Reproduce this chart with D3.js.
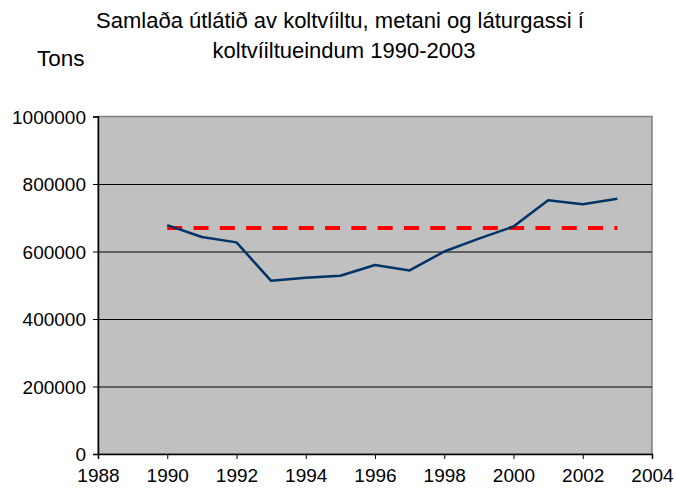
<!DOCTYPE html>
<html>
<head>
<meta charset="utf-8">
<script src="https://cdn.jsdelivr.net/npm/d3@7"></script>
<style>
  body { margin: 0; background: #fff; }
  text { font-family: "Liberation Sans", Arial, sans-serif; fill: #000; }
</style>
</head>
<body>
<div id="chart"></div>
<script>
// emissions in tons CO2 equivalents
const years = [1990, 1991, 1992, 1993, 1994, 1995, 1996, 1997, 1998, 1999, 2000, 2001, 2002, 2003];
const emissions = [678000, 643000, 627000, 513000, 522000, 528000, 560000, 544000, 600000, 638000, 674000, 752000, 740000, 756000];
// dashed reference level, drawn from first to last year
const refYears = [1990, 2003];
const refLevel = [670000, 670000];
const xTicks = [1988, 1990, 1992, 1994, 1996, 1998, 2000, 2002, 2004];
const yTicks = [0, 200000, 400000, 600000, 800000, 1000000];
const titleLines = ["Samlaða útlátið av koltvíiltu, metani og láturgassi í", "koltvíiltueindum 1990-2003"];

const W = 676, H = 493;
const margin = { top: 116.5, right: 24, bottom: 39, left: 98 };
const width = W - margin.left - margin.right;
const height = H - margin.top - margin.bottom;

const svg = d3.select("#chart").append("svg")
    .attr("width", W)
    .attr("height", H);

// title
svg.selectAll(".title")
    .data(titleLines)
    .enter().append("text")
    .attr("class", "title")
    .attr("x", (d, i) => i === 0 ? 340 : 344)
    .attr("y", (d, i) => 28 + i * 30)
    .attr("text-anchor", "middle")
    .style("font-size", "22px")
    .text(d => d);

svg.append("text")
    .attr("x", 37)
    .attr("y", 66)
    .style("font-size", "22.5px")
    .text("Tons");

const g = svg.append("g")
    .attr("transform", `translate(${margin.left},${margin.top})`);

const x = d3.scaleLinear().domain([1988, 2004]).range([0, width]);
const y = d3.scaleLinear().domain([0, 1000000]).range([height, 0]);

g.append("rect")
    .attr("width", width)
    .attr("height", height)
    .attr("fill", "#c0c0c0")
    .attr("stroke", "#808080")
    .attr("stroke-width", 1.5);

// gridlines
g.append("g")
    .call(d3.axisLeft(y).tickValues(yTicks.slice(1, -1)).tickSize(-width).tickFormat(""))
    .call(a => a.select(".domain").remove())
    .selectAll("line").attr("stroke", "#000");

// axes
const yAxis = g.append("g")
    .call(d3.axisLeft(y).tickValues(yTicks).tickSize(5).tickPadding(7).tickFormat(d3.format("d")));
yAxis.selectAll("text").style("font-size", "19px").attr("dy", "0.35em");

const xAxis = g.append("g")
    .attr("transform", `translate(0,${height})`)
    .call(d3.axisBottom(x).tickValues(xTicks).tickSize(5).tickPadding(10).tickFormat(d3.format("d")));
xAxis.selectAll("text").style("font-size", "19px");

[yAxis, xAxis].forEach(a => {
    a.select(".domain").attr("stroke", "#000").attr("stroke-width", 1.5);
    a.selectAll("line").attr("stroke", "#000");
});

// reference level
g.append("path")
    .datum(refYears.map((yr, i) => [yr, refLevel[i]]))
    .attr("fill", "none")
    .attr("stroke", "#ff0000")
    .attr("stroke-width", 4)
    .attr("stroke-dasharray", "15,11.3")
    .attr("d", d3.line().x(d => x(d[0])).y(d => y(d[1])));

// emissions
g.append("path")
    .datum(years.map((yr, i) => [yr, emissions[i]]))
    .attr("fill", "none")
    .attr("stroke", "#003366")
    .attr("stroke-width", 2.5)
    .attr("stroke-linejoin", "round")
    .attr("d", d3.line().x(d => x(d[0])).y(d => y(d[1])));
</script>
</body>
</html>
